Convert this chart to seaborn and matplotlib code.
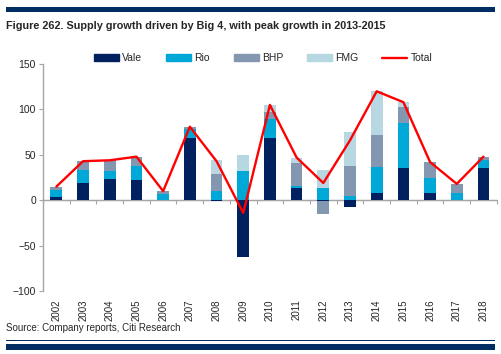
import numpy as np
import matplotlib.pyplot as plt
import seaborn as sns
from matplotlib.patches import Rectangle, Patch
from matplotlib.lines import Line2D

# data (Mt growth per year)
years = [str(y) for y in range(2002, 2019)]
vale = [4, 19, 23, 22, 0, 69, -1, -63, 69, 14, -1, -8, 8, 36, 8, 0, 35]
rio = [7, 14, 9, 16, 7, 10, 10, 32, 20, 2, 13, 5, 29, 49, 16, 8, 9]
bhp = [4, 10, 12, 10, 3, 2, 19, 0, 8, 25, -14, 33, 35, 18, 18, 10, 4]
fmg = [0, 0, 0, 0, 0, 0, 15, 18, 8, 6, 20, 37, 48, 5, 0, 0, 0]
total = [15, 43, 44, 48, 10, 81, 43, -14, 105, 47, 19, 66, 120, 108, 42, 18, 48]

names = ["Vale", "Rio", "BHP", "FMG"]
colors = ["#002060", "#00A8D8", "#8497B0", "#B7D7E3"]
navy = "#002D62"
grey = "#A6A6A6"

sns.set_style("white")
plt.rcParams['font.family'] = ['Liberation Sans', 'DejaVu Sans']

fig = plt.figure(figsize=(5.02, 3.54), dpi=100)
ax = fig.add_axes([0.0857, 0.178, 0.904, 0.641])

# stacked bars, positives and negatives stacked separately (like Excel)
n = len(years)
pos_base = np.zeros(n)
neg_base = np.zeros(n)
for name, vals, col in zip(names, [vale, rio, bhp, fmg], colors):
    v = np.array(vals, dtype=float)
    bottom = np.where(v >= 0, pos_base, neg_base)
    sns.barplot(x=years, y=v, bottom=bottom, color=col, saturation=1,
                width=0.44, errorbar=None, linewidth=0, ax=ax)
    pos_base += np.clip(v, 0, None)
    neg_base += np.clip(v, None, 0)

ax.plot(np.arange(n), total, color="red", lw=1.7, zorder=5)

ax.set_xlim(-0.5, n - 0.5)
ax.set_ylim(-100, 150)
ax.set_yticks(range(-100, 151, 50))
ax.set_xlabel("")
ax.set_ylabel("")

for s in ["top", "right", "bottom"]:
    ax.spines[s].set_visible(False)
ax.spines["left"].set_color(grey)
ax.spines["left"].set_linewidth(1)
ax.tick_params(axis="y", length=3, color=grey, labelsize=7.5, pad=2, direction="out", left=True)
ax.tick_params(axis="x", length=0, labelsize=7, pad=6, labelrotation=90)

# category axis crossing at zero
ax.axhline(0, color=grey, lw=1, zorder=0)
sec = ax.secondary_xaxis(0.4)
sec.set_xticks(np.arange(n + 1) - 0.5)
sec.set_xticklabels([])
sec.spines["bottom"].set_color(grey)
sec.tick_params(axis="x", length=3, color=grey, direction="out")

handles = [Patch(color=c, label=nm) for nm, c in zip(names, colors)]
handles.append(Line2D([], [], color="red", lw=1.7, label="Total"))
ax.legend(handles=handles, ncol=5, frameon=False, loc="lower center",
          bbox_to_anchor=(0.485, 0.985), fontsize=7.5, handlelength=2.4,
          handleheight=0.55, columnspacing=2.3, handletextpad=0.3,
          borderaxespad=0)

# header / footer decoration
fig.add_artist(Rectangle((6 / 502, 1 - 12 / 354), 489 / 502, 5 / 354,
                         transform=fig.transFigure, color=navy, lw=0))
fig.add_artist(Rectangle((6 / 502, 1 - 341 / 354), 489 / 502, 1.5 / 354,
                         transform=fig.transFigure, color=navy, lw=0))
fig.add_artist(Rectangle((6 / 502, 1 - 350 / 354), 489 / 502, 6 / 354,
                         transform=fig.transFigure, color=navy, lw=0))

fig.text(6 / 502, 1 - 26 / 354,
         "Figure 262. Supply growth driven by Big 4, with peak growth in 2013-2015",
         fontsize=7.8, fontweight="bold", va="center", ha="left")
fig.text(6 / 502, 1 - 328 / 354, "Source: Company reports, Citi Research",
         fontsize=7, va="center", ha="left")

fig.savefig("out.png", dpi=100)
